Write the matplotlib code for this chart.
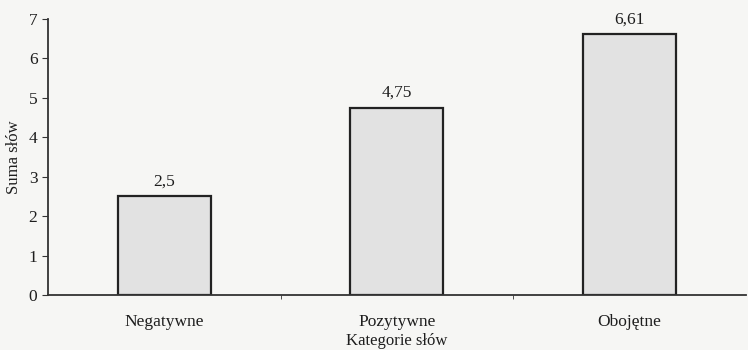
import matplotlib
matplotlib.use("Agg")
import matplotlib.pyplot as plt

categories = ["Negatywne", "Pozytywne", "Obojętne"]
values = [2.5, 4.75, 6.61]
value_labels = ["2,5", "4,75", "6,61"]
y_ticks = [0, 1, 2, 3, 4, 5, 6, 7]

plt.rcParams["font.family"] = ["Liberation Serif", "DejaVu Serif"]

bg = "#f6f6f4"
ink = "#1e1e1e"
fig = plt.figure(figsize=(7.48, 3.5), dpi=100, facecolor=bg)
ax = fig.add_axes([0.064, 0.157, 0.933, 0.789], facecolor=bg)

x = list(range(len(categories)))
bars = ax.bar(x, values, width=0.4, color="#e2e2e2", edgecolor="#222222", linewidth=1.6)
for b, lab in zip(bars, value_labels):
    ax.text(b.get_x() + b.get_width() / 2, b.get_height() + 0.17, lab,
            ha="center", va="bottom", fontsize=12.5, color=ink)

ax.set_xlim(-0.5, 2.5)
ax.set_ylim(0, 7)
ax.set_yticks(y_ticks)
ax.set_xticks(x)
ax.set_xticklabels(categories, fontsize=12.5, color=ink)
ax.set_xticks([0.5, 1.5], minor=True)
ax.tick_params(axis="x", which="major", length=0, pad=14)
ax.tick_params(axis="x", which="minor", length=3, direction="out", color="#333333")
ax.tick_params(axis="y", length=4, direction="out", labelsize=12.5, color="#333333", labelcolor=ink)

for s in ("top", "right"):
    ax.spines[s].set_visible(False)
for s in ("left", "bottom"):
    ax.spines[s].set_linewidth(1.3)
    ax.spines[s].set_color("#333333")

ax.set_ylabel("Suma słów", fontsize=12, color=ink, labelpad=5)
ax.set_xlabel("Kategorie słów", fontsize=12, color=ink, labelpad=1.5)

fig.savefig("out.png", dpi=100, facecolor=bg)
